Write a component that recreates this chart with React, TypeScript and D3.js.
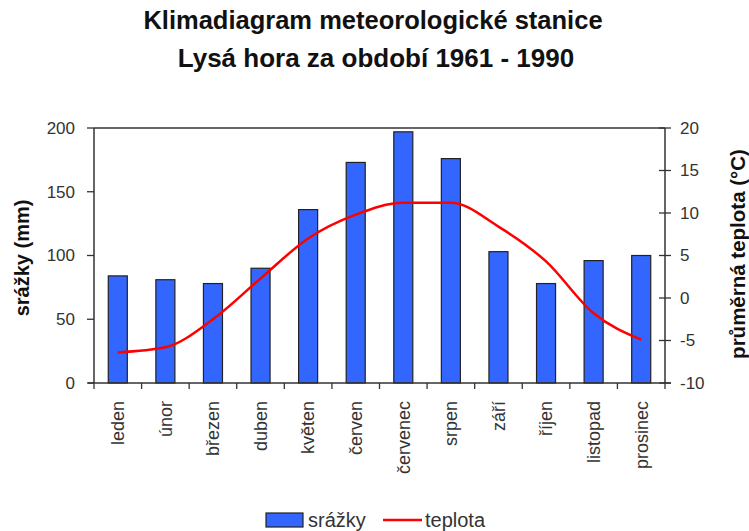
import React from "react";
import * as d3 from "d3";

const months = [
  "leden",
  "únor",
  "březen",
  "duben",
  "květen",
  "červen",
  "červenec",
  "srpen",
  "září",
  "říjen",
  "listopad",
  "prosinec"
];
// srážky (mm)
const precip = [84, 81, 78, 90, 136, 173, 197, 176, 103, 78, 96, 100];
// průměrná teplota (°C)
const temp = [-6.4, -5.8, -2.5, 2.3, 7.0, 9.8, 11.2, 11.2, 8.4, 4.3, -1.8, -4.9];

const precipTicks = [0, 50, 100, 150, 200];
const tempTicks = [-10, -5, 0, 5, 10, 15, 20];

const W = 749;
const H = 531;
const margin = { top: 128, right: 84, bottom: 148, left: 94 };
const font = "Arial, 'Liberation Sans', sans-serif";

export default function App() {
  const plotW = W - margin.left - margin.right;
  const plotH = H - margin.top - margin.bottom;

  const x = d3.scaleBand().domain(months).range([0, plotW]).paddingInner(0.6).paddingOuter(0.3);
  const yP = d3.scaleLinear().domain([0, 200]).range([plotH, 0]);
  const yT = d3.scaleLinear().domain([-10, 20]).range([plotH, 0]);
  const step = x.step();

  const line = d3
    .line<number>()
    .x((d, i) => x(months[i])! + x.bandwidth() / 2)
    .y(d => yT(d))
    .curve(d3.curveMonotoneX);

  return (
    <svg width={W} height={H} style={{ position: "absolute", left: 0, top: 0, background: "#fff" }} fontFamily={font}>
      <text x={373} y={29} textAnchor="middle" fontSize={25.5} fontWeight="bold" fill="#111">
        Klimadiagram meteorologické stanice
      </text>
      <text x={376} y={67} textAnchor="middle" fontSize={26} fontWeight="bold" fill="#111">
        Lysá hora za období 1961 - 1990
      </text>

      <g transform={`translate(${margin.left},${margin.top})`}>
        {/* bars */}
        {precip.map((v, i) => (
          <rect
            key={months[i]}
            x={x(months[i])}
            y={yP(v)}
            width={x.bandwidth()}
            height={plotH - yP(v)}
            fill="#3366ff"
            stroke="#222"
            strokeWidth={1.2}
          />
        ))}

        {/* temperature line */}
        <path d={line(temp) || ""} fill="none" stroke="#ff0000" strokeWidth={2.5} />

        {/* frame */}
        <line x1={0} x2={plotW} y1={0} y2={0} stroke="#333" strokeWidth={1.3} />
        <line x1={0} x2={0} y1={0} y2={plotH} stroke="#333" strokeWidth={1.5} />
        <line x1={plotW} x2={plotW} y1={0} y2={plotH} stroke="#333" strokeWidth={1.5} />
        <line x1={-6} x2={plotW + 6} y1={plotH} y2={plotH} stroke="#333" strokeWidth={1.5} />

        {/* left axis */}
        {precipTicks.map(t => (
          <g key={"p" + t} transform={`translate(0,${yP(t)})`}>
            <line x1={-7} x2={0} stroke="#333" strokeWidth={1.3} />
            <text x={-19} dy="0.35em" textAnchor="end" fontSize={17} fill="#333">
              {t}
            </text>
          </g>
        ))}

        {/* right axis */}
        {tempTicks.map(t => (
          <g key={"t" + t} transform={`translate(${plotW},${yT(t)})`}>
            <line x1={-6} x2={6} stroke="#333" strokeWidth={1.3} />
            <text x={15} dy="0.35em" textAnchor="start" fontSize={17} fill="#333">
              {t}
            </text>
          </g>
        ))}

        {/* x ticks between categories */}
        {d3.range(months.length + 1).map(i => (
          <line key={"xt" + i} x1={i * step} x2={i * step} y1={plotH} y2={plotH + 6} stroke="#333" strokeWidth={1.3} />
        ))}

        {/* x labels */}
        {months.map(m => (
          <text
            key={"xl" + m}
            transform={`translate(${x(m)! + x.bandwidth() / 2},${plotH + 18}) rotate(-90)`}
            textAnchor="end"
            dy="0.35em"
            fontSize={18}
            fill="#333"
          >
            {m}
          </text>
        ))}
      </g>

      {/* axis titles */}
      <text transform={`translate(22,258) rotate(-90)`} textAnchor="middle" dy="0.35em" fontSize={20} fontWeight="bold" fill="#111">
        srážky (mm)
      </text>
      <text transform={`translate(738,254) rotate(-90)`} textAnchor="middle" dy="0.35em" fontSize={20.5} fontWeight="bold" fill="#111">
        průměrná teplota (°C)
      </text>

      {/* legend */}
      <rect x={266} y={513} width={37} height={14} fill="#3366ff" stroke="#222" strokeWidth={1.2} />
      <text x={308} y={527} fontSize={20} fill="#333">
        srážky
      </text>
      <line x1={383} x2={422} y1={520} y2={520} stroke="#ff0000" strokeWidth={2.5} />
      <text x={425} y={527} fontSize={20} fill="#333">
        teplota
      </text>
    </svg>
  );
}
